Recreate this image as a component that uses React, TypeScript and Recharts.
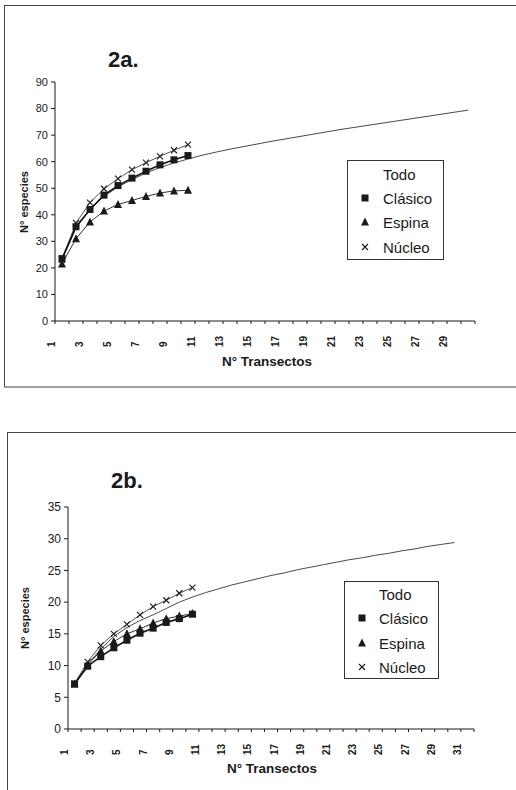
import React from "react";
import { LineChart, Line, XAxis, YAxis } from "recharts";

// Nº de transectos (categorías del eje X)
const transectos2a = [1, 2, 3, 4, 5, 6, 7, 8, 9, 10, 11, 12, 13, 14, 15, 16, 17, 18, 19, 20, 21, 22, 23, 24, 25, 26, 27, 28, 29, 30];
const transectos2b = [1, 2, 3, 4, 5, 6, 7, 8, 9, 10, 11, 12, 13, 14, 15, 16, 17, 18, 19, 20, 21, 22, 23, 24, 25, 26, 27, 28, 29, 30, 31];

// 2a. Nº especies
const todo2a = [23, 35, 42, 47, 50.5, 53.3, 55.7, 57.8, 59.5, 61, 62.4, 63.6, 64.7, 65.7, 66.7, 67.7, 68.6, 69.5, 70.4, 71.3, 72.2, 73.0, 73.8, 74.6, 75.4, 76.2, 77.0, 77.8, 78.6, 79.4];
const clasico2a = [23.5, 35.5, 42, 47.4, 51, 53.8, 56.4, 58.8, 60.7, 62.3];
const espina2a = [21.5, 31, 37.3, 41.4, 43.9, 45.4, 46.9, 48.2, 49, 49.2];
const nucleo2a = [23, 36.9, 44.6, 49.8, 53.6, 57, 59.6, 62, 64.3, 66.4];

// 2b. Nº especies
const todo2b = [7, 10.2, 12.6, 14.6, 16.0, 17.1, 18.0, 19.0, 20.0, 20.8, 21.5, 22.1, 22.7, 23.2, 23.7, 24.2, 24.6, 25.1, 25.5, 25.9, 26.3, 26.7, 27.0, 27.4, 27.7, 28.1, 28.4, 28.8, 29.1, 29.4];
const clasico2b = [7.1, 9.9, 11.4, 12.8, 14.0, 15.1, 15.9, 16.8, 17.4, 18.1];
const espina2b = [7.1, 10.1, 12.3, 13.8, 15.0, 15.8, 16.7, 17.4, 17.8, 18.2];
const nucleo2b = [7.2, 10.6, 13.2, 15.0, 16.5, 18.0, 19.3, 20.3, 21.4, 22.3];

const ticksY2a = [0, 10, 20, 30, 40, 50, 60, 70, 80, 90];
const ticksY2b = [0, 5, 10, 15, 20, 25, 30, 35];

const FONT = "'Liberation Sans', Arial, sans-serif";
const INK = "#1a1a1a";

function Square({ cx, cy }: any) {
  return <rect x={cx - 3.5} y={cy - 3.5} width={7} height={7} fill={INK} />;
}

function Triangle({ cx, cy }: any) {
  return <polygon points={`${cx},${cy - 4.5} ${cx + 4},${cy + 3.5} ${cx - 4},${cy + 3.5}`} fill={INK} />;
}

function Cross({ cx, cy }: any) {
  return (
    <path
      d={`M${cx - 3},${cy - 3}L${cx + 3},${cy + 3}M${cx + 3},${cy - 3}L${cx - 3},${cy + 3}`}
      stroke={INK}
      strokeWidth={1.1}
      fill="none"
    />
  );
}

function marker(Shape: any, name: string) {
  return (p: any) => {
    if (p.cx == null || p.cy == null || p.value == null) return <g key={`${name}-${p.index}`} />;
    return (
      <g key={`${name}-${p.index}`}>
        <Shape cx={p.cx} cy={p.cy} />
      </g>
    );
  };
}

function makeTick(n: number) {
  return (props: any) => {
    const { x, y, payload } = props;
    const k = payload.value + 0.5;
    if (k % 2 === 0 || k > n) return <g />;
    const ty = y + 21;
    return (
      <text
        x={x}
        y={ty}
        transform={`rotate(-90 ${x} ${ty})`}
        textAnchor="start"
        fontSize={10}
        fontWeight={700}
        fontFamily={FONT}
        fill={INK}
      >
        {k}
      </text>
    );
  };
}

interface CurvaProps {
  transectos: number[];
  todo: number[];
  clasico: number[];
  espina: number[];
  nucleo: number[];
  ticksY: number[];
  height: number;
  margin: { top: number; right: number; bottom: number; left: number };
  yFont: number;
}

function CurvaEspecies({ transectos, todo, clasico, espina, nucleo, ticksY, height, margin, yFont }: CurvaProps) {
  const data = transectos.map((t, i) => ({
    t,
    todo: todo[i],
    clasico: clasico[i],
    espina: espina[i],
    nucleo: nucleo[i],
  }));
  const n = transectos.length;
  const bounds = transectos.map((t) => t - 0.5).concat([n + 0.5]);

  return (
    <LineChart width={516} height={height} data={data} margin={margin}>
      <XAxis
        dataKey="t"
        type="number"
        domain={[0.5, n + 0.5]}
        ticks={bounds}
        interval={0}
        tickSize={3}
        tick={makeTick(n)}
        height={40}
        stroke={INK}
        tickLine={{ stroke: INK }}
      />
      <YAxis
        type="number"
        domain={[0, ticksY[ticksY.length - 1]]}
        ticks={ticksY}
        interval={0}
        width={40}
        tickSize={4}
        tickMargin={3}
        stroke={INK}
        tick={{ fontSize: yFont, fill: INK, fontFamily: FONT }}
      />
      <Line dataKey="todo" stroke="#4a4a4a" strokeWidth={1} dot={false} isAnimationActive={false} />
      <Line dataKey="espina" stroke="#333" strokeWidth={1} dot={marker(Triangle, "e")} isAnimationActive={false} />
      <Line dataKey="nucleo" stroke="#555" strokeWidth={1} dot={marker(Cross, "n")} isAnimationActive={false} />
      <Line dataKey="clasico" stroke="#111" strokeWidth={1.6} dot={marker(Square, "c")} isAnimationActive={false} />
    </LineChart>
  );
}

function Leyenda({ x, y, w, h, tx, mx, rows }: any) {
  const names = ["Todo", "Clásico", "Espina", "Núcleo"];
  const shapes = [null, Square, Triangle, Cross];
  return (
    <g>
      <rect x={x} y={y} width={w} height={h} fill="#fff" stroke="#333" strokeWidth={1} />
      {names.map((name, i) => {
        const Shape = shapes[i];
        return (
          <g key={name}>
            {Shape && <Shape cx={mx} cy={rows[i]} />}
            <text x={tx} y={rows[i] + 5.5} fontSize={15} fontFamily={FONT} fill={INK}>
              {name}
            </text>
          </g>
        );
      })}
    </g>
  );
}

export default function App() {
  return (
    <div style={{ position: "absolute", left: 0, top: 0, width: 516, height: 790, background: "#fff", overflow: "hidden" }}>
      <div style={{ position: "absolute", left: 0, top: 0 }}>
        <CurvaEspecies
          transectos={transectos2a}
          todo={todo2a}
          clasico={clasico2a}
          espina={espina2a}
          nucleo={nucleo2a}
          ticksY={ticksY2a}
          height={400}
          margin={{ top: 82, right: 41, bottom: 39, left: 15 }}
          yFont={11}
        />
      </div>
      <div style={{ position: "absolute", left: 0, top: 400 }}>
        <CurvaEspecies
          transectos={transectos2b}
          todo={todo2b}
          clasico={clasico2b}
          espina={espina2b}
          nucleo={nucleo2b}
          ticksY={ticksY2b}
          height={390}
          margin={{ top: 107, right: 42, bottom: 21, left: 28 }}
          yFont={12}
        />
      </div>
      <svg width={516} height={790} style={{ position: "absolute", left: 0, top: 0, pointerEvents: "none" }}>
        <rect x={4.5} y={5.5} width={600} height={381.5} fill="none" stroke="#444" strokeWidth={1} />
        <rect x={7.5} y={432.5} width={600} height={400} fill="none" stroke="#444" strokeWidth={1} />

        <text x={108} y={67} fontSize={22} fontWeight={700} fontFamily={FONT} fill={INK}>2a.</text>
        <text x={111} y={488} fontSize={22} fontWeight={700} fontFamily={FONT} fill={INK}>2b.</text>

        <text transform="translate(28,202) rotate(-90)" textAnchor="middle" fontSize={11} fontWeight={700} fontFamily={FONT} fill={INK}>
          N° especies
        </text>
        <text transform="translate(29,618) rotate(-90)" textAnchor="middle" fontSize={11} fontWeight={700} fontFamily={FONT} fill={INK}>
          N° especies
        </text>
        <text x={267} y={366} textAnchor="middle" fontSize={13.5} fontWeight={700} fontFamily={FONT} fill={INK}>
          N° Transectos
        </text>
        <text x={272} y={773} textAnchor="middle" fontSize={13.5} fontWeight={700} fontFamily={FONT} fill={INK}>
          N° Transectos
        </text>

        <Leyenda x={347.5} y={160.5} w={96} h={99} tx={383} mx={365} rows={[174, 198, 222, 247]} />
        <Leyenda x={344.5} y={581.5} w={94} h={97} tx={379} mx={362} rows={[594, 618, 643, 667]} />
      </svg>
    </div>
  );
}
